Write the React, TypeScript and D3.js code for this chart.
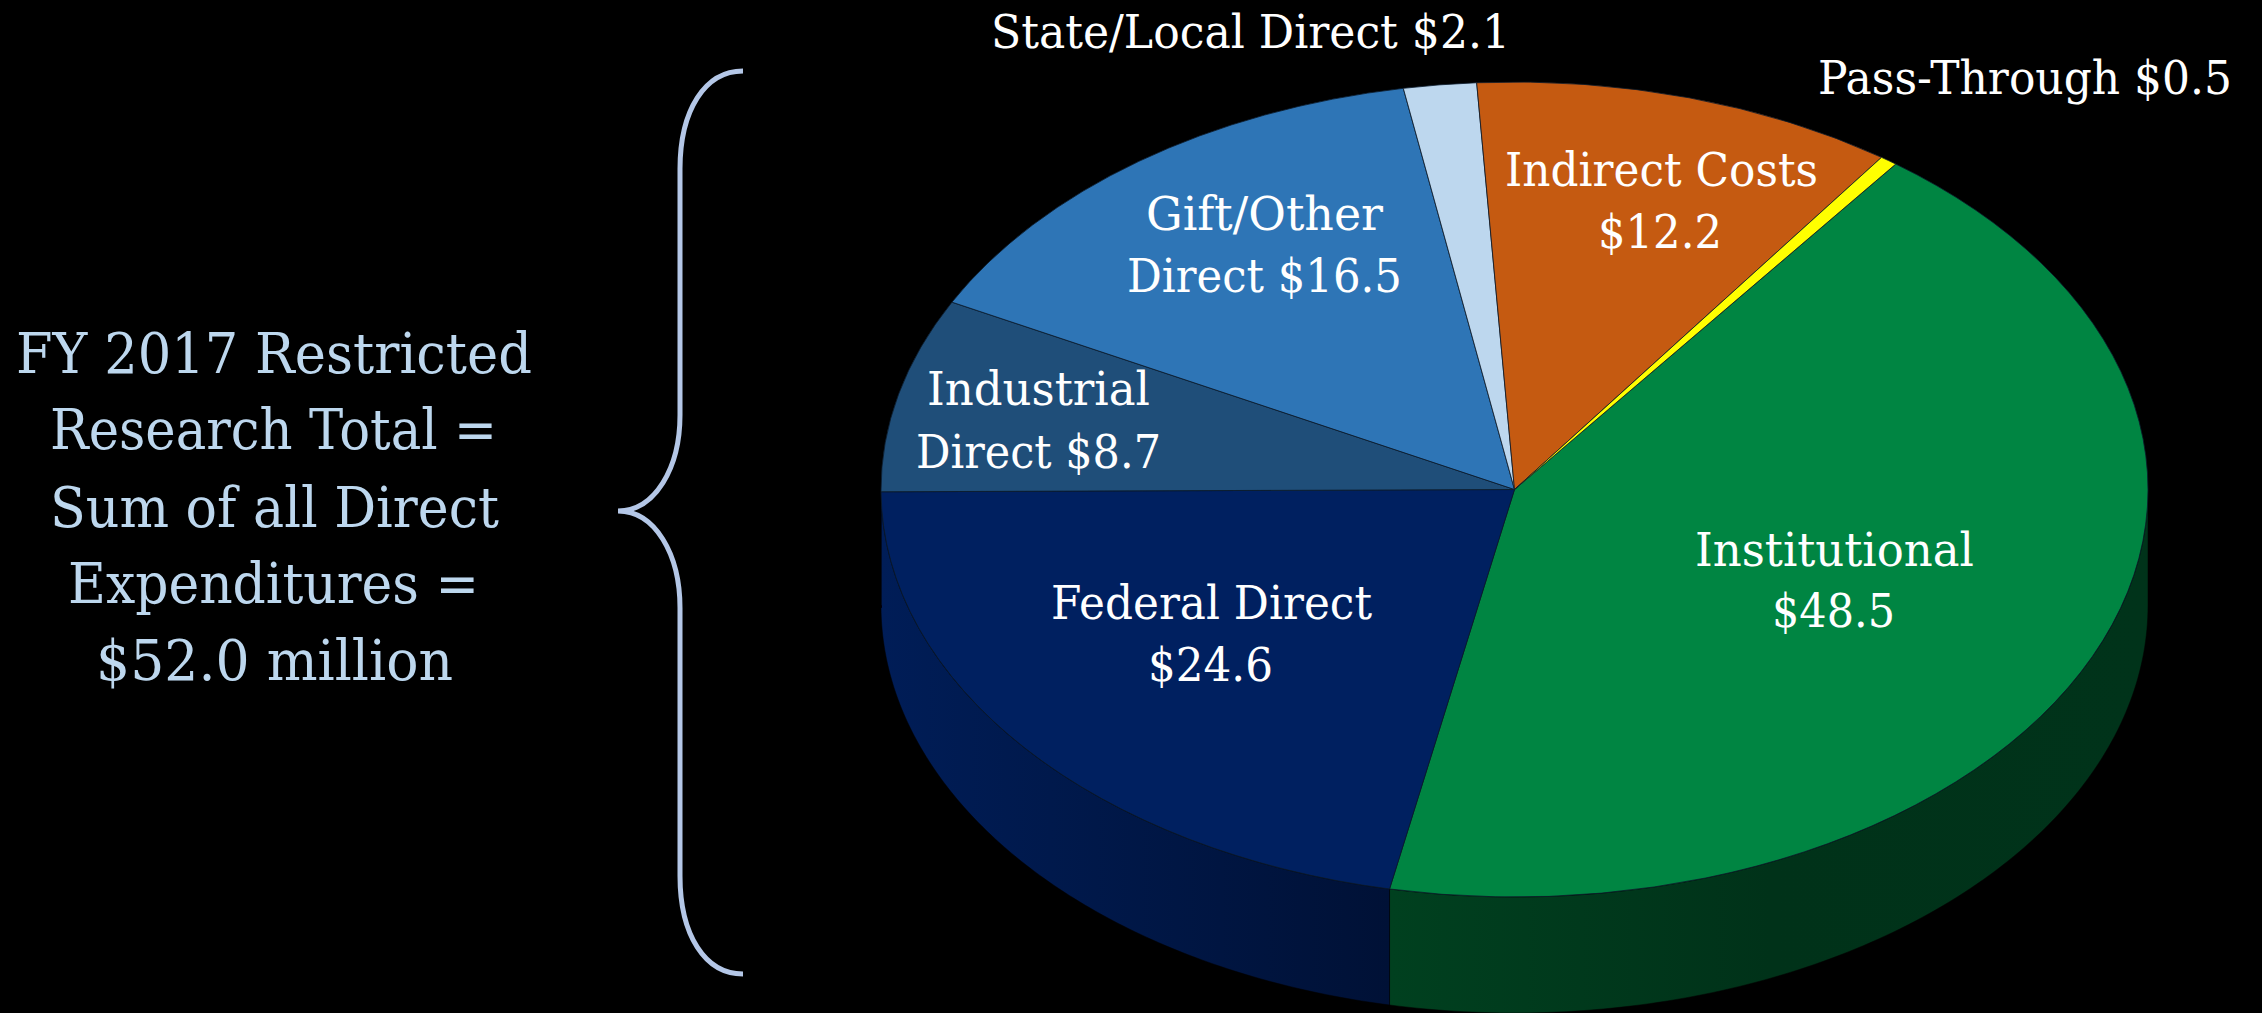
import React from "react";
import * as d3 from "d3";

// Data (millions of dollars), clockwise from the Pass-Through / Institutional seam
const categories = ["Institutional", "Federal Direct", "Industrial Direct", "Gift/Other Direct", "State/Local Direct", "Indirect Costs", "Pass-Through"];
const values = [48.5, 24.6, 8.7, 16.5, 2.1, 12.2, 0.5];
const topColors = ["#008542", "#002060", "#1f4e79", "#2e75b6", "#bdd7ee", "#c55a11", "#ffff00"];
const summaryLines = ["FY 2017 Restricted", "Research Total =", "Sum of all Direct", "Expenditures =", "$52.0 million"];
const labelLines = [
  "State/Local Direct $2.1", "Pass-Through $0.5", "Indirect Costs", "$12.2", "Gift/Other", "Direct $16.5",
  "Industrial", "Direct $8.7", "Institutional", "$48.5", "Federal Direct", "$24.6",
];

// Layout
const W = 2262, H = 1013;
const cx = 1514.5, cy = 489.5, rx = 633.5, ry = 407.5, depth = 116;
const START = (37 * Math.PI) / 180;
const labelBoxes: [number, number, number][] = [
  [991, 1510, 48], [1818, 2232, 94], [1505, 1818, 185.5], [1598, 1722, 248], [1146, 1383, 230], [1127, 1402, 292],
  [927, 1150, 405], [916, 1161, 467.5], [1695, 1974, 565.5], [1772, 1895, 627], [1051, 1372, 618.5], [1148, 1273, 681],
];
const summaryBoxes: [number, number, number][] = [
  [16, 532, 373], [50, 497, 449], [50, 499, 526.5], [68, 479, 602.5], [96, 453, 680],
];

const pie = d3.pie<number>().sort(null).startAngle(START).endAngle(START + 2 * Math.PI);
const arcs = pie(values);
const arcGen = d3.arc<d3.PieArcDatum<number>>().innerRadius(0).outerRadius(rx);
const line = d3.line();
const pt = (a: number, dy = 0): [number, number] => [cx + rx * Math.sin(a), cy - ry * Math.cos(a) + dy];

function wall(a0: number, a1: number) {
  const TAU = 2 * Math.PI;
  const norm = (a: number) => a % TAU;
  const s = Math.max(norm(a0), Math.PI / 2);
  let e = norm(a1);
  if (e < norm(a0)) e += TAU;
  e = Math.min(e, (3 * Math.PI) / 2);
  if (e <= s) return null;
  const angles = d3.range(0, 121).map((i) => s + ((e - s) * i) / 120);
  const pts = [...angles.map((a) => pt(a)), ...angles.slice().reverse().map((a) => pt(a, depth))];
  return line(pts) + "Z";
}

const brace = d3.path();
brace.moveTo(743, 71);
brace.bezierCurveTo(705, 71, 680, 110, 680, 169);
brace.lineTo(680, 415);
brace.bezierCurveTo(680, 468, 655, 511, 618, 511);
brace.bezierCurveTo(655, 511, 680, 554, 680, 608);
brace.lineTo(680, 876);
brace.bezierCurveTo(680, 935, 705, 974, 743, 974);

const wallFills: Record<number, string> = { 0: "url(#greenWall)", 1: "url(#blueWall)" };

export default function App() {
  return (
    <svg width={W} height={H} viewBox={`0 0 ${W} ${H}`} style={{ position: "fixed", left: 0, top: 0, background: "#000", display: "block" }}>
      <defs>
        <linearGradient id="greenWall" gradientUnits="userSpaceOnUse" x1={1391} x2={cx + rx} y1={0} y2={0}>
          <stop offset="0" stopColor="#00401f" />
          <stop offset="0.5" stopColor="#003219" />
          <stop offset="1" stopColor="#00331a" />
        </linearGradient>
        <linearGradient id="blueWall" gradientUnits="userSpaceOnUse" x1={cx - rx} x2={1391} y1={0} y2={0}>
          <stop offset="0" stopColor="#001d57" />
          <stop offset="1" stopColor="#001136" />
        </linearGradient>
      </defs>

      {arcs.map((d, i) => {
        const p = wall(d.startAngle, d.endAngle);
        return p ? <path key={i} d={p} fill={wallFills[i] ?? topColors[i]} stroke="#000" strokeOpacity={0.5} strokeWidth={1} /> : null;
      })}

      <g transform={`translate(${cx},${cy}) scale(1,${ry / rx})`}>
        {arcs.map((d, i) => (
          <path key={categories[i]} d={arcGen(d) ?? ""} fill={topColors[i]} stroke="#0b1a2a" strokeOpacity={0.8} strokeWidth={1} vectorEffect="non-scaling-stroke" />
        ))}
      </g>

      {labelLines.map((t, i) => {
        const [x0, x1, y] = labelBoxes[i];
        return (
          <text key={t} x={x0} y={y} textLength={x1 - x0} lengthAdjust="spacingAndGlyphs" fontFamily="'DejaVu Serif'" fontSize={47} fill="#fff">
            {t}
          </text>
        );
      })}

      {summaryLines.map((t, i) => {
        const [x0, x1, y] = summaryBoxes[i];
        return (
          <text key={t} x={x0} y={y} textLength={x1 - x0} lengthAdjust="spacingAndGlyphs" fontFamily="'DejaVu Serif'" fontSize={56} fill="#bdd7ee">
            {t}
          </text>
        );
      })}

      <path d={brace.toString()} fill="none" stroke="#b4c7e7" strokeWidth={5} />
    </svg>
  );
}
